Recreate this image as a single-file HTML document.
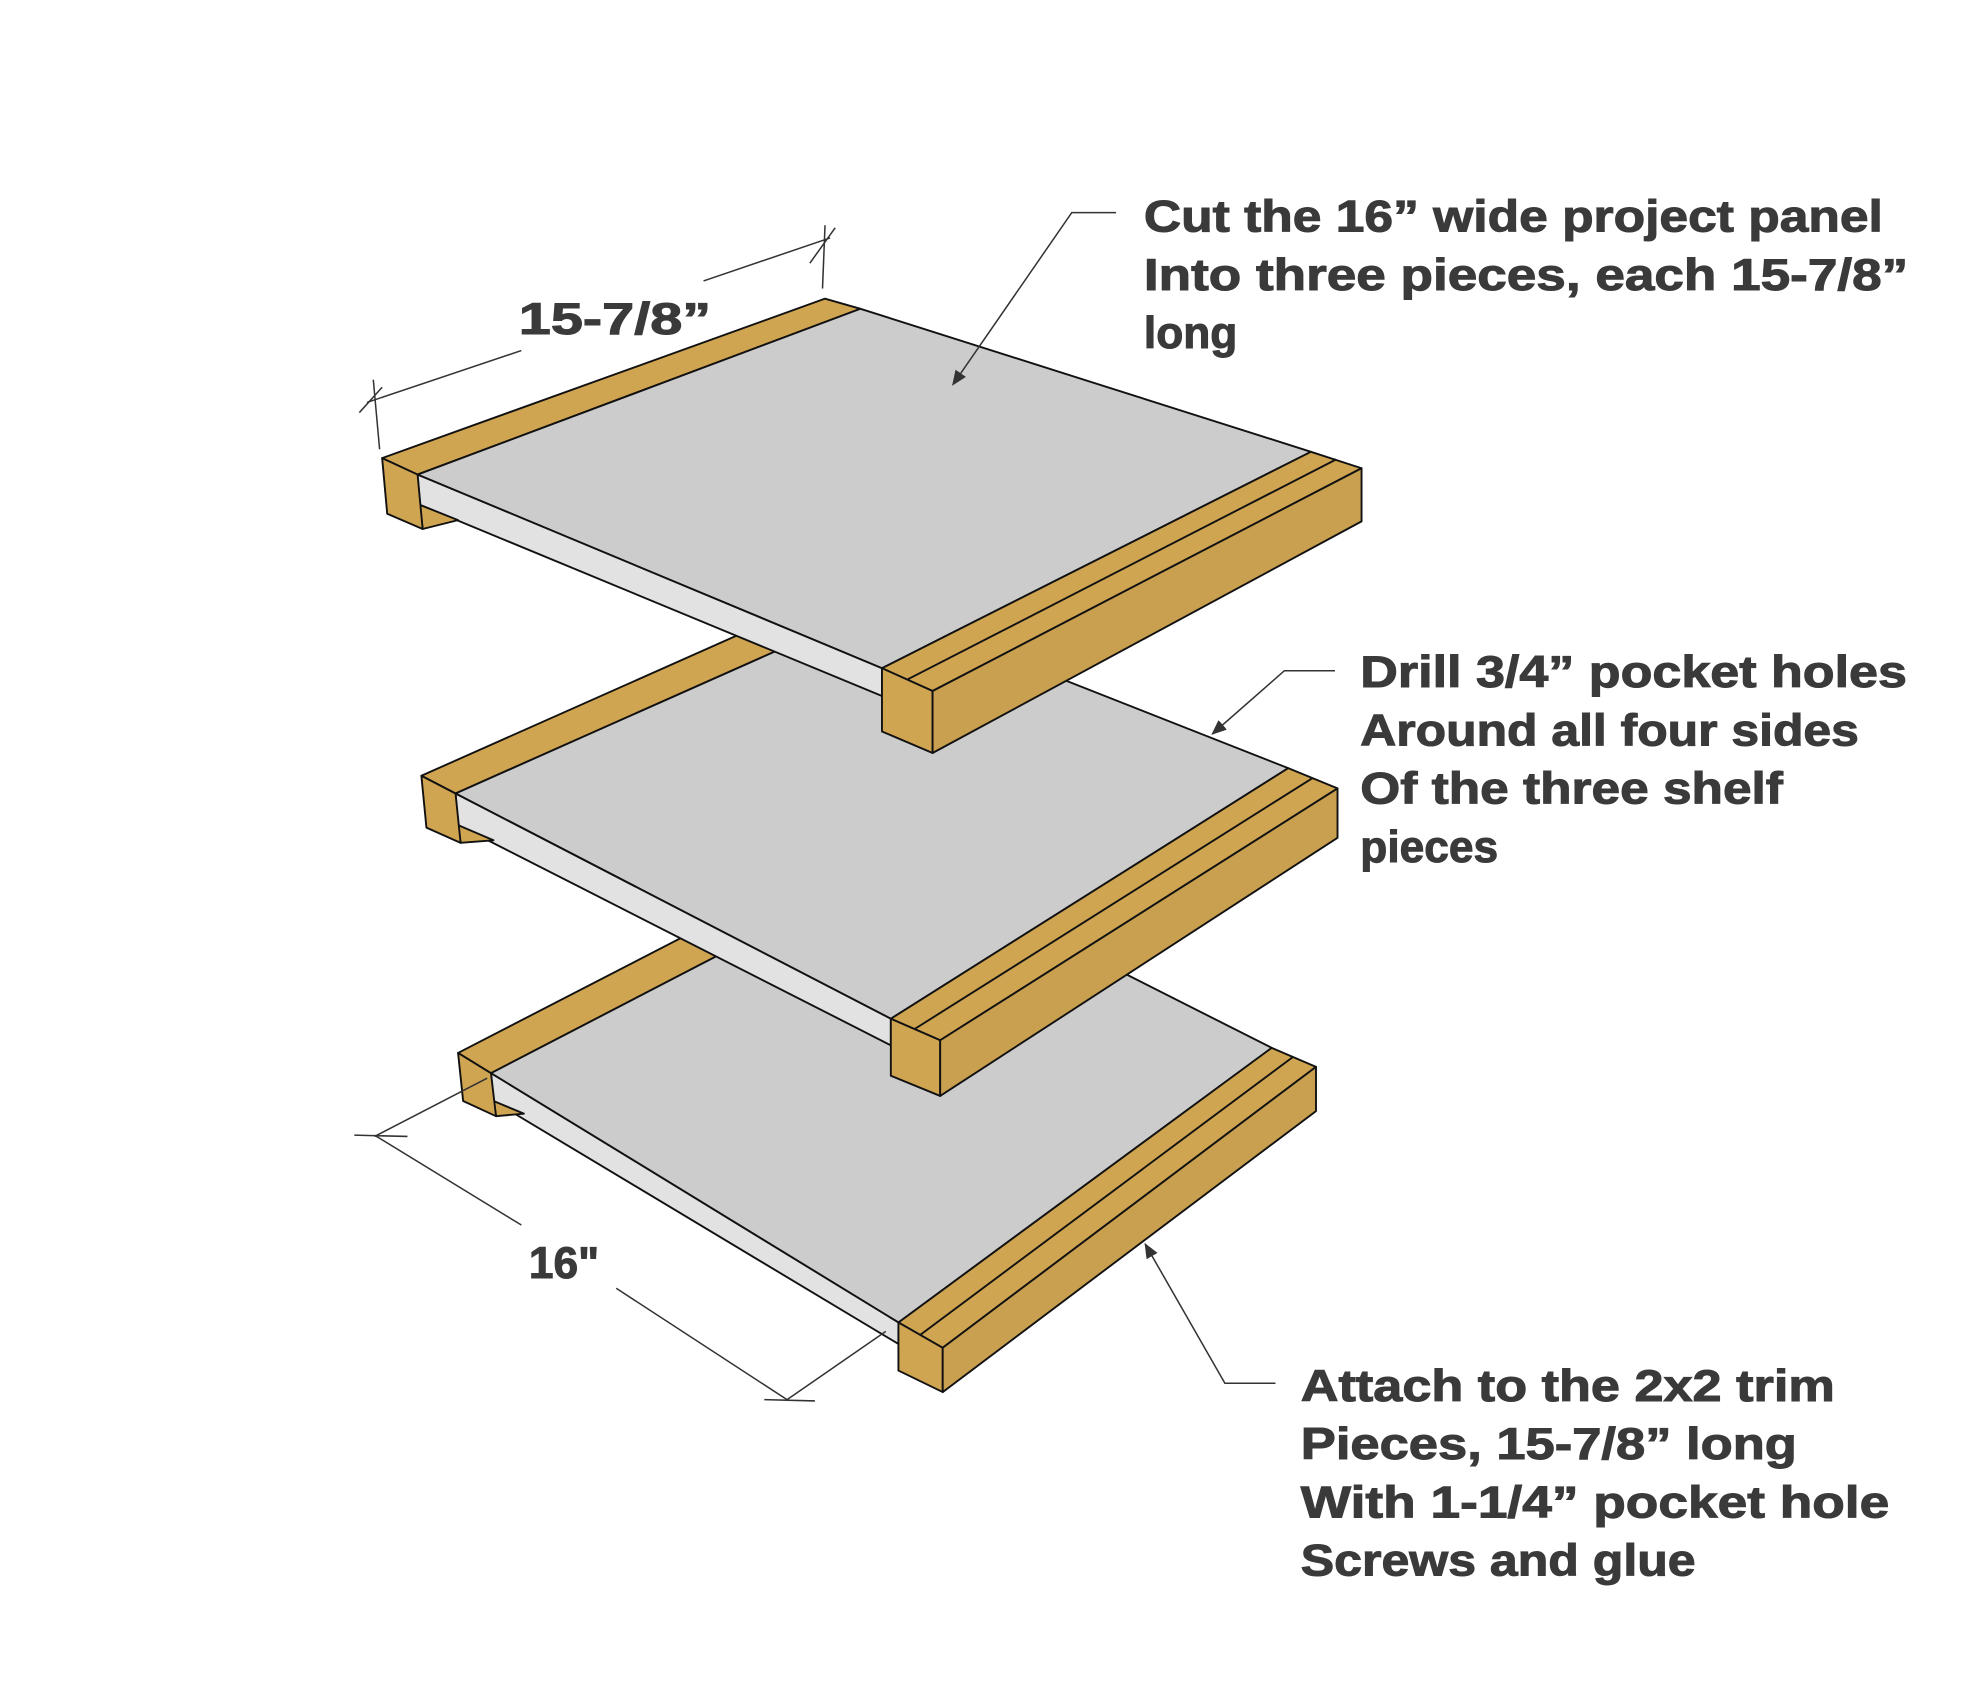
<!DOCTYPE html>
<html><head><style>html,body{margin:0;padding:0;background:#fff}svg{display:block}</style></head>
<body>
<svg width="1974" height="1692" viewBox="0 0 1560 1337" preserveAspectRatio="none" xmlns="http://www.w3.org/2000/svg">
<defs><marker id="a" markerWidth="12" markerHeight="10" refX="11" refY="5" orient="auto" markerUnits="userSpaceOnUse"><path d="M0,0 L12,5 L0,10 Z" fill="#333"/></marker></defs>
<g stroke="#111" stroke-width="1.5" stroke-linejoin="round">
<!-- bottom shelf -->
<polygon points="362,832 686,665 712,680 388,848" fill="#d0a552"/>
<polygon points="388,848 712,680 1005,828 710,1045" fill="#cccccc"/>
<polygon points="388,848 710,1045 710,1062 390,870" fill="#e2e2e2"/>
<polygon points="390,870 414,880 392,882" fill="#d0a552"/>
<polygon points="362,832 388,848 392,882 366,870" fill="#d0a552"/>
<polygon points="1005,828 1040,843 745,1065 710,1045" fill="#d0a552"/>
<line x1="1022" y1="835" x2="727" y2="1055"/>
<polygon points="710,1045 745,1065 745,1100 710,1083" fill="#d0a552"/>
<polygon points="745,1065 1040,843 1040,878 745,1100" fill="#c9a050"/>
<!-- middle shelf -->
<polygon points="333,613 666,465 693,479 360,627" fill="#d0a552"/>
<polygon points="360,627 693,479 1018,607 704,805" fill="#cccccc"/>
<polygon points="360,627 704,805 704,826 362,652" fill="#e2e2e2"/>
<polygon points="362,652 390,664 364,666" fill="#d0a552"/>
<polygon points="333,613 360,627 364,666 337,654" fill="#d0a552"/>
<polygon points="1018,607 1057,623 743,822 704,805" fill="#d0a552"/>
<line x1="1037" y1="615" x2="723" y2="813"/>
<polygon points="704,805 743,822 743,866 704,850" fill="#d0a552"/>
<polygon points="743,822 1057,623 1057,662 743,866" fill="#c9a050"/>
<!-- top shelf -->
<polygon points="302,362 652,236 680,244 330,375" fill="#d0a552"/>
<polygon points="330,375 680,244 1036,357 697,528" fill="#cccccc"/>
<polygon points="330,375 697,528 697,550 332,399" fill="#e2e2e2"/>
<polygon points="332,399 362,411 334,418" fill="#d0a552"/>
<polygon points="302,362 330,375 334,418 306,406" fill="#d0a552"/>
<polygon points="1036,357 1076,370 737,546 697,528" fill="#d0a552"/>
<line x1="1056" y1="363" x2="717" y2="537"/>
<polygon points="697,528 737,546 737,595 697,578" fill="#d0a552"/>
<polygon points="737,546 1076,370 1076,412 737,595" fill="#c9a050"/>
</g>
<g stroke="#333" stroke-width="1.2" fill="none">
<line x1="300" y1="355" x2="295" y2="300"/>
<line x1="650" y1="228" x2="652" y2="178"/>
<line x1="290" y1="318" x2="412" y2="277"/>
<line x1="556" y1="222" x2="656" y2="188"/>
<line x1="284" y1="326" x2="302" y2="306"/>
<line x1="640" y1="208" x2="660" y2="180"/>
<line x1="385" y1="852" x2="296" y2="898"/>
<line x1="622" y1="1106" x2="700" y2="1052"/>
<line x1="296" y1="897" x2="412" y2="968"/>
<line x1="487" y1="1018" x2="622" y2="1106"/>
<line x1="280" y1="897" x2="322" y2="898"/>
<line x1="604" y1="1106" x2="644" y2="1107"/>
<polyline points="882,168 847,168 753,304" marker-end="url(#a)"/>
<polyline points="1055,530 1015,530 958,580" marker-end="url(#a)"/>
<polyline points="1008,1093 968,1093 905,983" marker-end="url(#a)"/>
</g>
<g font-family="'Liberation Sans',sans-serif" font-weight="bold" font-size="35" fill="#3a3a3a" stroke="#3a3a3a" stroke-width="0.8">
<text x="410" y="264" textLength="152" lengthAdjust="spacingAndGlyphs">15-7/8”</text>
<text x="418" y="1010">16"</text>
<text x="904" y="183" textLength="584" lengthAdjust="spacingAndGlyphs">Cut the 16” wide project panel</text>
<text x="904" y="229" textLength="604" lengthAdjust="spacingAndGlyphs">Into three pieces, each 15-7/8”</text>
<text x="904" y="275">long</text>
<text x="1075" y="543" textLength="432" lengthAdjust="spacingAndGlyphs">Drill 3/4” pocket holes</text>
<text x="1075" y="589" textLength="394" lengthAdjust="spacingAndGlyphs">Around all four sides</text>
<text x="1075" y="635" textLength="334" lengthAdjust="spacingAndGlyphs">Of the three shelf</text>
<text x="1075" y="681">pieces</text>
<text x="1028" y="1107" textLength="422" lengthAdjust="spacingAndGlyphs">Attach to the 2x2 trim</text>
<text x="1028" y="1153" textLength="392" lengthAdjust="spacingAndGlyphs">Pieces, 15-7/8” long</text>
<text x="1028" y="1199" textLength="465" lengthAdjust="spacingAndGlyphs">With 1-1/4” pocket hole</text>
<text x="1028" y="1245" textLength="312" lengthAdjust="spacingAndGlyphs">Screws and glue</text>
</g>
</svg>
</body></html>
